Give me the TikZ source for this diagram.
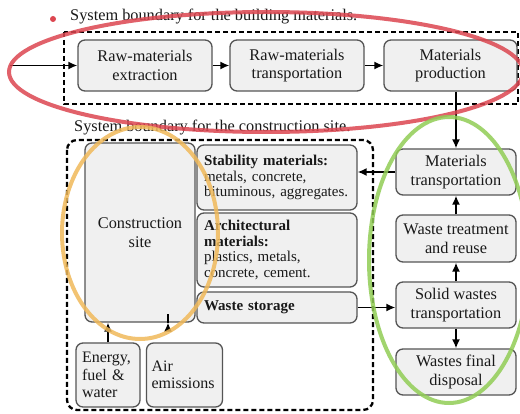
\documentclass[tikz,border=0pt]{standalone}
\usepackage{fontspec}
\setmainfont{Liberation Serif}
\usetikzlibrary{arrows.meta,calc}
\definecolor{boxfill}{RGB}{240,240,240}
\definecolor{boxdraw}{RGB}{85,85,85}
\definecolor{txt}{RGB}{25,25,25}
\definecolor{annred}{RGB}{220,70,80}
\definecolor{annorange}{RGB}{240,185,90}
\definecolor{anngreen}{RGB}{145,205,85}
\begin{document}
\begin{tikzpicture}[x=1pt,y=-1pt,
  box/.style={draw=boxdraw, fill=boxfill, line width=1.3pt, rounded corners=7pt, inner sep=0pt, text=txt, align=center, font=\fontsize{16.3}{18.5}\selectfont},
  lbox/.style={box, align=left, font=\fontsize{15}{15.8}\selectfont},
  sbox/.style={box, align=left, font=\fontsize{16}{17.5}\selectfont},
  arr/.style={line width=1.6pt, -{Latex[length=9pt,width=8pt]}},
  bound/.style={line width=2.3pt, dash pattern=on 5pt off 3pt},
  ann/.style={line width=4pt, opacity=0.85},
  title/.style={anchor=base west, inner sep=0pt, text=txt, font=\fontsize{16.3}{18}\selectfont}]
\useasboundingbox (0,0) rectangle (520,414);
\fill[white] (0,0) rectangle (520,414);

% titles
\fill[annred] (53,19) circle (3);
\node[title] (t1) at (70,21) {System boundary for the building materials.};
\node[title] (t2) at (74,132) {System boundary for the construction site.};

% boundaries
\draw[bound] (64,32) rectangle (518,104);
\draw[bound, rounded corners=10pt] (67,140) rectangle (373,410);

% top row
\node[box, minimum width=134, minimum height=51] (ext) at (145,65.5) {Raw-materials\\extraction};
\node[box, minimum width=134, minimum height=51] (rtr) at (297,65.5) {Raw-materials\\transportation};
\node[box, minimum width=133, minimum height=51] (prod) at (450.5,65.5) {Materials\\production};

% right column
\node[box, minimum width=120, minimum height=46] (mt) at (456,172) {Materials\\transportation};
\node[box, minimum width=120, minimum height=47] (wt) at (456,238.5) {Waste treatment\\and reuse};
\node[box, minimum width=120, minimum height=46] (swt) at (456,305) {Solid wastes\\transportation};
\node[box, minimum width=120, minimum height=46] (wfd) at (456,372) {Wastes final\\disposal};

% construction site
\node[box, minimum width=110, minimum height=179] (cs) at (140,232.5) {Construction\\site};
\node[lbox, text width=146, inner xsep=7, minimum height=65] (stab) at (277,177.5) {\textbf{Stability materials:}\\metals, concrete,\\bituminous, aggregates.};
\node[lbox, text width=146, inner xsep=7, minimum height=74] (arch) at (277,250) {\textbf{Architectural}\\\textbf{materials:}\\plastics, metals,\\concrete, cement.};
\node[lbox, text width=146, inner xsep=7, minimum height=31] (ws) at (277,307.5) {\textbf{Waste storage}};
\node[sbox, text width=52, inner xsep=6, minimum height=64] (en) at (108,375) {Energy,\\fuel \&\\water};
\node[sbox, text width=66, inner xsep=5, minimum height=64] (air) at (184.5,375) {Air\\emissions};

% arrows
\coordinate (in) at (10,65.5);
\draw[arr] (in) -- (ext.west);
\draw[arr] (ext) -- (rtr);
\draw[arr] (rtr) -- (prod);
\draw[arr] (prod.south -| mt.north) -- (mt.north);
\draw[arr] (mt.west) -- (mt.west -| stab.east);
\draw[arr] (wt) -- (mt);
\draw[arr] (swt) -- (wt);
\draw[arr] (swt) -- (wfd);
\draw[arr] (ws.east) -- (ws.east -| swt.west);
\draw[arr] (en.north) -- (en.north |- cs.south);
\draw[arr] ($(cs.south)+(28,0)$) -- ($(cs.south)+(28,0)$ |- air.north);

% hand-drawn annotations
\draw[ann, annred] (266,72) ellipse [x radius=257, y radius=60];
\draw[ann, annorange] (140,233) ellipse [x radius=78, y radius=106];
\draw[ann, anngreen] (449,260) ellipse [x radius=80, y radius=143];
\end{tikzpicture}
\end{document}
